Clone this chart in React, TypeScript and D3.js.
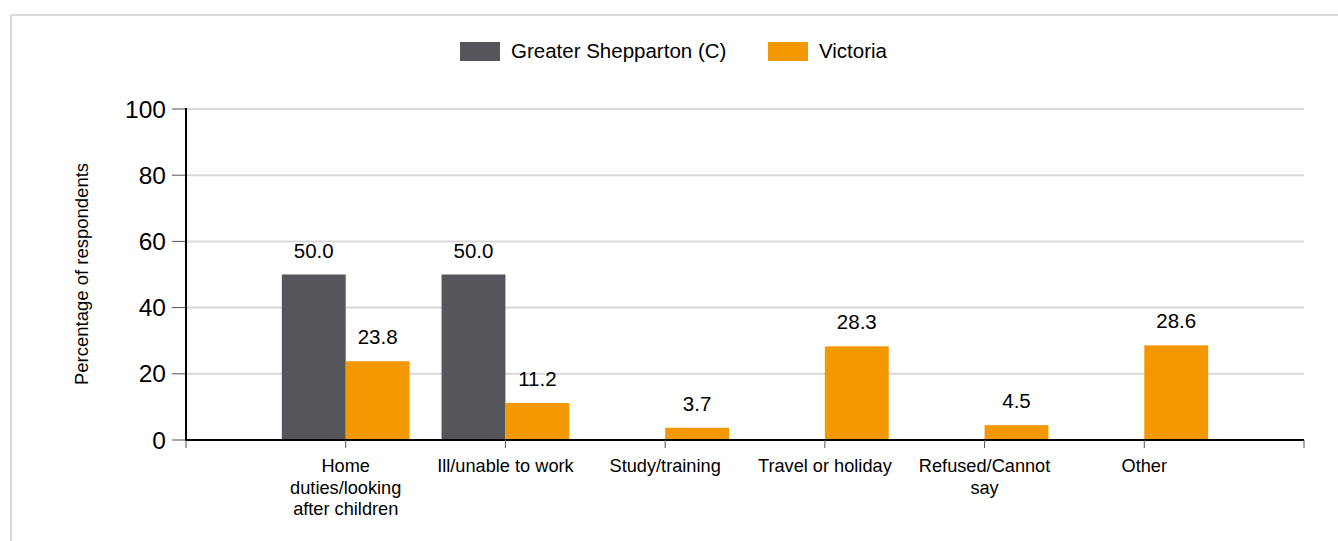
import React from "react";
import * as d3 from "d3";

const categories: string[][] = [
  ["Home", "duties/looking", "after children"],
  ["Ill/unable to work"],
  ["Study/training"],
  ["Travel or holiday"],
  ["Refused/Cannot", "say"],
  ["Other"],
];
const categoryKeys = ["home", "ill", "study", "travel", "refused", "other"];
const shepparton: (number | null)[] = [50.0, 50.0, null, null, null, null];
const victoria: (number | null)[] = [23.8, 11.2, 3.7, 28.3, 4.5, 28.6];
const yTicks = [0, 20, 40, 60, 80, 100];
const seriesNames = ["Greater Shepparton (C)", "Victoria"];
const colors = ["#54565b", "#f39800"];

const FONT = "'Liberation Sans', Arial, sans-serif";

export default function App() {
  const W = 1338, H = 541;
  const x0 = 186, x1 = 1304;
  const y = d3.scaleLinear().domain([0, 100]).range([440, 109]);
  const x = d3.scalePoint<string>().domain(categoryKeys).range([x0, x1]).padding(1);
  const barW = x.step() * 0.4;
  const series = [shepparton, victoria];

  return (
    <svg width={W} height={H} style={{ position: "absolute", left: 0, top: 0 }} fontFamily={FONT}>
      <rect x={0} y={0} width={W} height={H} fill="#fff" />
      <rect x={11} y={15} width={1340} height={560} fill="none" stroke="#d9d9d9" strokeWidth={2} />
      {/* legend */}
      {seriesNames.map((n, i) => {
        const lx = i === 0 ? 460 : 768;
        return (
          <g key={n}>
            <rect x={lx} y={42} width={40} height={19} fill={colors[i]} />
            <text x={lx + 51} y={58} fontSize={20.5} fill="#000">{n}</text>
          </g>
        );
      })}
      {/* gridlines */}
      {yTicks.map((t) => (
        <g key={t}>
          {t > 0 && <line x1={x0} x2={x1} y1={y(t)} y2={y(t)} stroke="#d9d9d9" strokeWidth={2} />}
          <line x1={172} x2={x0} y1={y(t)} y2={y(t)} stroke="#555" strokeWidth={1} />
          <text x={166} y={y(t) + 8.5} fontSize={24.5} textAnchor="end" fill="#000">{t}</text>
        </g>
      ))}
      <text
        transform={`translate(88,274) rotate(-90)`}
        fontSize={18.5}
        textAnchor="middle"
        fill="#000"
      >
        Percentage of respondents
      </text>
      {/* bars */}
      {categoryKeys.map((k, ci) => {
        const cx = x(k)!;
        return series.map((s, si) => {
          const v = s[ci];
          if (v == null) return null;
          const bx = cx - barW + si * barW;
          return (
            <g key={k + si}>
              <rect x={bx} y={y(v)} width={barW} height={y(0) - y(v)} fill={colors[si]} />
              <text x={bx + barW / 2} y={y(v) - 17} fontSize={20.5} textAnchor="middle" fill="#000">
                {v.toFixed(1)}
              </text>
            </g>
          );
        });
      })}
      {/* axes */}
      <line x1={x0} x2={x0} y1={108} y2={441} stroke="#000" strokeWidth={2} />
      <line x1={x0} x2={x1} y1={440} y2={440} stroke="#000" strokeWidth={2} />
      {[x0, ...categoryKeys.map((k) => x(k)!), x1].map((tx, i) => (
        <line key={i} x1={tx} x2={tx} y1={440} y2={448} stroke="#555" strokeWidth={1} />
      ))}
      {categoryKeys.map((k, ci) => (
        <text key={k} x={x(k)!} y={472} fontSize={18.2} textAnchor="middle" fill="#000">
          {categories[ci].map((line, li) => (
            <tspan key={li} x={x(k)!} dy={li === 0 ? 0 : 21.5}>{line}</tspan>
          ))}
        </text>
      ))}
    </svg>
  );
}
